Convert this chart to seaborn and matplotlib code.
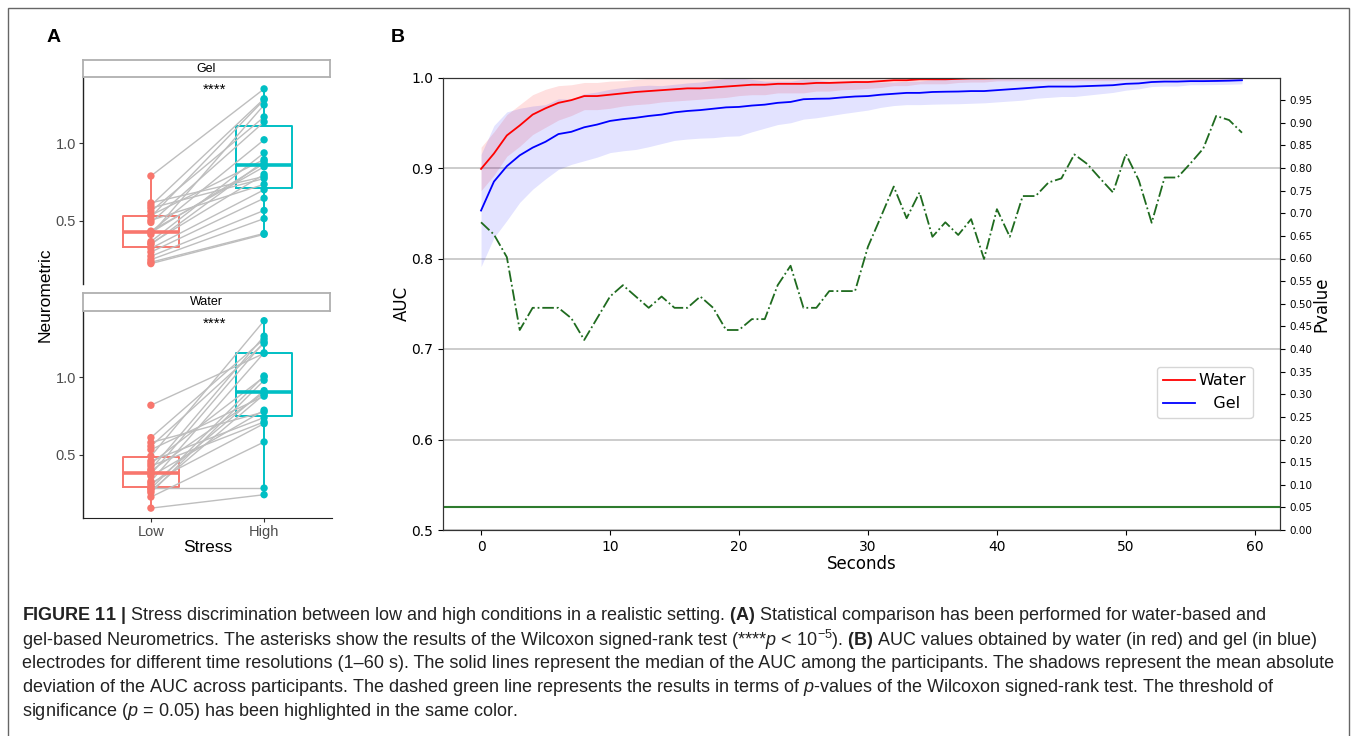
import numpy as np
import pandas as pd
import matplotlib
matplotlib.use("Agg")
import matplotlib.pyplot as plt
import matplotlib.patches as mpatches
from matplotlib.lines import Line2D
from matplotlib import font_manager as fm
import seaborn as sns

# ---------------- data ----------------
stress_levels = ["Low", "High"]
gel_low = [0.789, 0.615, 0.598, 0.581, 0.560, 0.535, 0.524, 0.502, 0.488, 0.432, 0.428,
           0.422, 0.410, 0.364, 0.352, 0.345, 0.320, 0.296, 0.269, 0.247, 0.230, 0.221]
gel_high = [1.354, 0.786, 1.290, 0.773, 1.172, 0.896, 1.283, 0.735, 1.140, 0.849, 1.024,
            0.870, 1.250, 0.939, 0.800, 0.885, 0.700, 0.645, 0.566, 0.513, 0.417, 0.411]
water_low = [0.820, 0.610, 0.578, 0.554, 0.532, 0.490, 0.459, 0.442, 0.426, 0.405, 0.395,
             0.372, 0.360, 0.327, 0.316, 0.301, 0.283, 0.279, 0.265, 0.253, 0.225, 0.153]
water_high = [1.156, 1.250, 0.777, 1.221, 0.879, 1.368, 0.740, 1.004, 0.712, 1.268, 0.900,
              1.231, 0.788, 1.160, 0.701, 0.915, 0.283, 1.010, 0.890, 0.982, 0.582, 0.240]

seconds = list(range(60))
water_auc = [0.899, 0.916, 0.936, 0.947, 0.959, 0.966, 0.972, 0.975, 0.9795, 0.9795,
             0.981, 0.9825, 0.984, 0.985, 0.986, 0.987, 0.988, 0.988, 0.989, 0.990,
             0.991, 0.992, 0.992, 0.993, 0.993, 0.993, 0.994, 0.994, 0.9945, 0.995,
             0.995, 0.996, 0.997, 0.997, 0.998, 0.998, 0.998, 0.9985, 0.999, 0.999,
             0.9993, 0.9993, 0.9994, 0.9994, 0.9994, 0.9995, 0.9995, 0.9995, 0.9995, 0.9995,
             0.9995, 0.9995, 0.9995, 0.9995, 0.9995, 0.9995, 0.9995, 0.9995, 0.9995, 0.9995]
water_mad = [0.024, 0.024, 0.023, 0.023, 0.022, 0.021, 0.019, 0.017, 0.015, 0.015,
             0.015, 0.014, 0.014, 0.014, 0.013, 0.013, 0.013, 0.012, 0.012, 0.012,
             0.011, 0.011, 0.011, 0.010, 0.010, 0.010, 0.009, 0.009, 0.008, 0.008,
             0.007, 0.007, 0.006, 0.006, 0.005, 0.005, 0.005, 0.004, 0.004, 0.004,
             0.003, 0.003, 0.003, 0.003, 0.003, 0.003, 0.003, 0.003, 0.003, 0.003,
             0.002, 0.002, 0.002, 0.002, 0.002, 0.002, 0.002, 0.002, 0.002, 0.002]
gel_auc = [0.853, 0.885, 0.902, 0.914, 0.9225, 0.929, 0.9375, 0.940, 0.945, 0.948,
           0.952, 0.954, 0.9555, 0.9575, 0.959, 0.9615, 0.963, 0.964, 0.9655, 0.967,
           0.9675, 0.969, 0.970, 0.972, 0.973, 0.976, 0.9765, 0.9767, 0.978, 0.979,
           0.9795, 0.981, 0.982, 0.983, 0.983, 0.984, 0.9843, 0.9845, 0.985, 0.985,
           0.986, 0.987, 0.988, 0.989, 0.990, 0.990, 0.990, 0.9905, 0.991, 0.9915,
           0.993, 0.9935, 0.995, 0.9955, 0.9955, 0.996, 0.996, 0.9962, 0.9965, 0.997]
gel_mad = [0.062, 0.062, 0.060, 0.052, 0.046, 0.041, 0.039, 0.036, 0.037, 0.036,
           0.035, 0.035, 0.035, 0.034, 0.032, 0.031, 0.031, 0.031, 0.032, 0.032,
           0.032, 0.029, 0.026, 0.024, 0.023, 0.022, 0.021, 0.019, 0.018, 0.017,
           0.0155, 0.014, 0.013, 0.013, 0.013, 0.0135, 0.0135, 0.0135, 0.0135, 0.013,
           0.013, 0.013, 0.013, 0.012, 0.012, 0.011, 0.011, 0.010, 0.009, 0.008,
           0.007, 0.006, 0.005, 0.005, 0.005, 0.004, 0.004, 0.004, 0.004, 0.004]
pvalues = [0.680, 0.653, 0.603, 0.442, 0.491, 0.491, 0.491, 0.468, 0.420, 0.468,
           0.516, 0.541, 0.516, 0.491, 0.516, 0.491, 0.491, 0.516, 0.491, 0.442,
           0.442, 0.466, 0.466, 0.541, 0.584, 0.491, 0.491, 0.528, 0.528, 0.528,
           0.626, 0.692, 0.759, 0.689, 0.746, 0.648, 0.680, 0.652, 0.687, 0.599,
           0.709, 0.648, 0.738, 0.738, 0.768, 0.777, 0.830, 0.809, 0.777, 0.746,
           0.831, 0.773, 0.679, 0.779, 0.779, 0.810, 0.843, 0.915, 0.906, 0.878]
p_threshold = 0.05
auc_ticks = [0.5, 0.6, 0.7, 0.8, 0.9, 1.0]
p_ticks = [round(0.05 * i, 2) for i in range(20)]
sec_ticks = [0, 10, 20, 30, 40, 50, 60]

# ---------------- fonts ----------------
def has_font(name):
    try:
        fm.findfont(fm.FontProperties(family=name), fallback_to_default=False)
        return True
    except Exception:
        return False

gg_font = "Liberation Sans" if has_font("Liberation Sans") else "DejaVu Sans"
cap_font = "Liberation Sans Narrow" if has_font("Liberation Sans Narrow") else gg_font

plt.rcParams["font.family"] = ["DejaVu Sans"]
plt.rcParams["mathtext.fontset"] = "custom"
plt.rcParams["mathtext.rm"] = cap_font
plt.rcParams["mathtext.it"] = cap_font + ":italic"
plt.rcParams["mathtext.bf"] = cap_font + ":bold"

W, H = 1355, 736
fig = plt.figure(figsize=(W / 100, H / 100), dpi=100)
fig.patch.set_facecolor("white")

def fbox(x0, y0, x1, y1):
    """pixel box (top-left origin) -> figure fraction rect"""
    return [x0 / W, 1 - y1 / H, (x1 - x0) / W, (y1 - y0) / H]

# ---------------- panel A ----------------
pal = {"Low": "#F8766D", "High": "#00BFC4"}
grey_txt = "#4D4D4D"

def paired_panel(box, strip_box, title, low, high, show_x):
    ax = fig.add_axes(fbox(*box))
    n = len(low)
    df = pd.DataFrame({
        "participant": list(range(n)) * 2,
        "Stress": ["Low"] * n + ["High"] * n,
        "Neurometric": low + high,
    })
    df["pos"] = df["Stress"].map({s: i for i, s in enumerate(stress_levels)})
    sns.boxplot(data=df, x="Stress", y="Neurometric", hue="Stress", order=stress_levels,
                hue_order=stress_levels, palette=pal, fill=False, width=0.5,
                showfliers=False, linewidth=1.4, legend=False, ax=ax,
                medianprops=dict(linewidth=2.6), capprops=dict(linewidth=0))
    sns.lineplot(data=df, x="pos", y="Neurometric", units="participant", estimator=None,
                 color="#BEBEBE", lw=1.0, ax=ax, legend=False, sort=False, zorder=2)
    sns.stripplot(data=df, x="Stress", y="Neurometric", hue="Stress", order=stress_levels,
                  hue_order=stress_levels, palette=pal, jitter=False, size=5.3,
                  legend=False, ax=ax, zorder=4, linewidth=0)
    ax.text(0.56, 1.35, "****", ha="center", va="center", fontsize=11, family=gg_font)
    ax.set_xlim(-0.6, 1.6)
    ax.set_ylim(0.089, 1.431)
    ax.set_yticks([0.5, 1.0])
    ax.set_yticklabels(["0.5", "1.0"], family=gg_font, fontsize=10.5, color=grey_txt)
    for s in ["top", "right"]:
        ax.spines[s].set_visible(False)
    ax.spines["left"].set_color("#222222")
    ax.spines["left"].set_linewidth(1.0)
    ax.tick_params(axis="y", length=3, color="#333333", pad=2)
    ax.set_ylabel("")
    if show_x:
        ax.spines["bottom"].set_color("#222222")
        ax.set_xticks([0, 1])
        ax.set_xticklabels(stress_levels, family=gg_font, fontsize=10.5, color=grey_txt)
        ax.tick_params(axis="x", length=3, color="#333333", pad=2)
        ax.set_xlabel("Stress", family=gg_font, fontsize=12.5, labelpad=1)
    else:
        ax.spines["bottom"].set_visible(False)
        ax.set_xticks([])
        ax.set_xlabel("")
    ax.set_facecolor("none")
    # facet strip
    sax = fig.add_axes(fbox(*strip_box))
    sax.set_xticks([])
    sax.set_yticks([])
    for s in sax.spines.values():
        s.set_color("#B0B0B0")
        s.set_linewidth(1.3)
    sax.text(0.5, 0.5, title, ha="center", va="center", fontsize=9, family=gg_font,
             transform=sax.transAxes)
    return ax

paired_panel((83, 77, 332, 284), (83, 60, 330, 77), "Gel", gel_low, gel_high, False)
paired_panel((83, 311, 332, 518), (83, 293, 330, 311), "Water", water_low, water_high, True)
fig.text(45 / W, 1 - 295 / H, "Neurometric", rotation=90, ha="center", va="center",
         fontsize=12.5, family=gg_font)

# ---------------- panel B ----------------
axb = fig.add_axes(fbox(443, 77.5, 1280, 530))
wlo = [m - d for m, d in zip(water_auc, water_mad)]
whi = [m + d for m, d in zip(water_auc, water_mad)]
glo = [m - d for m, d in zip(gel_auc, gel_mad)]
ghi = [m + d for m, d in zip(gel_auc, gel_mad)]
axb.fill_between(seconds, wlo, whi, color="red", alpha=0.12, lw=0)
axb.fill_between(seconds, glo, ghi, color="blue", alpha=0.11, lw=0)
auc_df = pd.DataFrame({
    "Seconds": seconds * 2,
    "AUC": water_auc + gel_auc,
    "Electrode": ["Water"] * 60 + ["Gel"] * 60,
})
sns.lineplot(data=auc_df, x="Seconds", y="AUC", hue="Electrode",
             palette={"Water": "red", "Gel": "blue"}, lw=1.3, ax=axb, legend=False)
axb.set_xlim(-2.95, 61.95)
axb.set_ylim(0.5, 1.0)
axb.set_yticks(auc_ticks)
axb.set_yticklabels([f"{v:.1f}" for v in auc_ticks], fontsize=10)
axb.set_xticks(sec_ticks)
axb.set_xticklabels([str(v) for v in sec_ticks], fontsize=10)
axb.yaxis.grid(True, color="#cccccc", lw=1.4)
axb.set_axisbelow(True)
axb.set_xlabel("Seconds", fontsize=12, labelpad=1)
axb.set_ylabel("AUC", fontsize=12, labelpad=0)
for s in axb.spines.values():
    s.set_color("#333333")

ax2 = axb.twinx()
sns.lineplot(x=seconds, y=pvalues, ax=ax2, color="#1f6b1f", lw=1.3, linestyle="-.")
ax2.axhline(p_threshold, color="#2e7b2e", lw=1.5)
ax2.set_ylim(0, 1.0)
ax2.set_yticks(p_ticks)
ax2.set_yticklabels([f"{v:.2f}" for v in p_ticks], fontsize=7.5)
ax2.set_ylabel("Pvalue", fontsize=12, labelpad=0)
for s in ax2.spines.values():
    s.set_color("#333333")

handles = [Line2D([], [], color="red", lw=1.3), Line2D([], [], color="blue", lw=1.3)]
axb.legend(handles, ["Water", "   Gel"], loc="upper left", bbox_to_anchor=(0.853, 0.36),
           fontsize=11.5, borderaxespad=0, handlelength=2.0, handletextpad=0.2)

# panel letters
fig.text(47 / W, 1 - 37 / H, "A", fontsize=14, fontweight="bold", family=gg_font,
         ha="left", va="center")
fig.text(391 / W, 1 - 37 / H, "B", fontsize=14, fontweight="bold", family=gg_font,
         ha="left", va="center")

# ---------------- caption ----------------
cap_lines = [
    r"$\mathbf{FIGURE\ 11\ |}$ Stress discrimination between low and high conditions in a realistic setting. $\mathbf{(A)}$ Statistical comparison has been performed for water-based and",
    r"gel-based Neurometrics. The asterisks show the results of the Wilcoxon signed-rank test (****$\mathit{p}\,<\,\mathrm{10}^{\mathrm{-5}}$). $\mathbf{(B)}$ AUC values obtained by water (in red) and gel (in blue)",
    r"electrodes for different time resolutions (1–60 s). The solid lines represent the median of the AUC among the participants. The shadows represent the mean absolute",
    r"deviation of the AUC across participants. The dashed green line represents the results in terms of $\mathit{p}$-values of the Wilcoxon signed-rank test. The threshold of",
    r"significance ($\mathit{p}\,=\,\mathrm{0.05}$) has been highlighted in the same color.",
]
cap_y = [615, 639.5, 664, 688, 712]
renderer = fig.canvas.get_renderer()
probe = fig.text(0, 0, cap_lines[2], fontsize=12, family=cap_font)
pw = probe.get_window_extent(renderer=renderer).width
probe.remove()
cap_size = 12 * (1318 / pw)
for line, y in zip(cap_lines, cap_y):
    fig.text(22 / W, 1 - y / H, line, fontsize=cap_size, family=cap_font,
             ha="left", va="center", color="#222222")

# frame
fig.add_artist(mpatches.Rectangle((8 / W, -0.02), (1349 - 8) / W, 1.02 - 8 / H,
                                  transform=fig.transFigure, fill=False,
                                  edgecolor="#666666", lw=1.0))

fig.savefig("out.png", dpi=100, facecolor="white")
